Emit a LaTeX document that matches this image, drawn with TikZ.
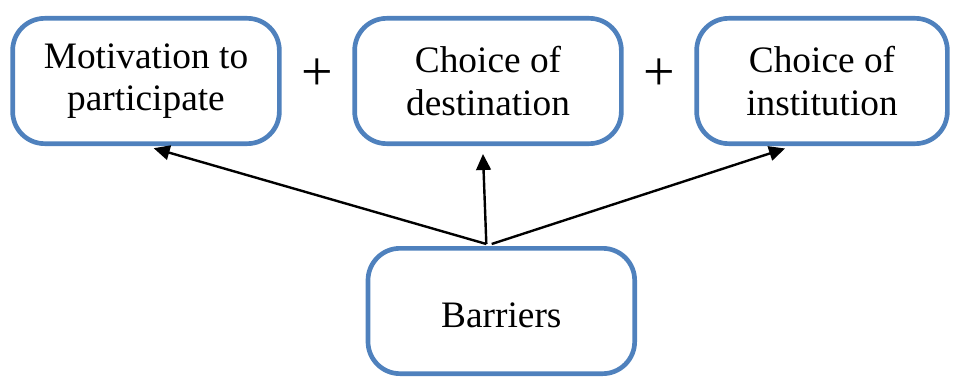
\documentclass[tikz,border=0pt]{standalone}
\usepackage{fontspec}
\setmainfont{Liberation Serif}
\usetikzlibrary{arrows.meta,positioning,calc}
\definecolor{boxblue}{RGB}{79,129,189}

\begin{document}
\begin{tikzpicture}[x=0.75pt, y=-0.75pt, node distance=53pt,
    stage/.style={rounded corners=24pt, draw=boxblue, line width=3.5pt, align=center,
        minimum width=200pt, minimum height=94pt, font=\fontsize{28}{32}\selectfont},
    plus/.style={font=\fontsize{42}{42}\selectfont},
    link/.style={-{Triangle[length=12pt,width=11pt]}, line width=1.8pt, shorten >=6pt}]
        \useasboundingbox (0,0) rectangle (957,378);
        % Define nodes
        \node (motivation) [stage] at (146,81) {Motivation to\\participate};
        \node (destination) [stage, right=of motivation] {Choice of\\destination};
        \node (institution) [stage, right=of destination, minimum width=188pt] {Choice of\\institution};
        \node (barriers) [stage, below=75pt of destination, xshift=10pt, text height=25pt] {Barriers};
        \node (plus1) [plus] at ($(motivation.east)!0.5!(destination.west)+(0,-6)$) {+};
        \node (plus2) [plus] at ($(destination.east)!0.5!(institution.west)+(0,-6)$) {+};
        \coordinate (fork) at ($(barriers.north)+(-15,-2)$);

        % Draw arrows
        \draw[link] (fork) -- (motivation.south);
        \draw[link] (fork) -- ([xshift=-4pt]destination.south);
        \draw[link] ([xshift=4pt]fork) -- ([xshift=-22pt]institution.south);
    \end{tikzpicture}
\end{document}
